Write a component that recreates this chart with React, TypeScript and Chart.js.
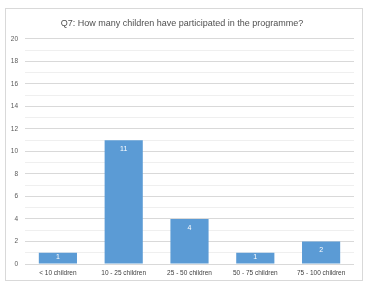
import React, { useEffect, useRef } from "react";
import { Chart, registerables } from "chart.js";
Chart.register(...registerables);

const categories = ["< 10 children", "10 - 25 children", "25 - 50 children", "50 - 75 children", "75 - 100 children"];
const counts = [1, 11, 4, 1, 2];
const titleText = "Q7: How many children have participated in the programme?";

const labelPlugin = {
  id: "barLabels",
  afterDatasetsDraw(chart: any) {
    const ctx = chart.ctx;
    const meta = chart.getDatasetMeta(0);
    ctx.save();
    ctx.fillStyle = "#ffffff";
    ctx.font = "7px 'Liberation Sans', Arial, sans-serif";
    ctx.textAlign = "center";
    ctx.textBaseline = "middle";
    meta.data.forEach((bar: any, i: number) => {
      const y = Math.min(bar.y + 9, (bar.y + bar.base) / 2 - 1);
      ctx.fillText(String(counts[i]), bar.x, y);
    });
    ctx.restore();
  },
};

export default function App() {
  const ref = useRef<HTMLCanvasElement>(null);
  useEffect(() => {
    const chart = new Chart(ref.current!, {
      type: "bar",
      data: {
        labels: categories,
        datasets: [
          {
            data: counts,
            backgroundColor: "#5b9bd5",
            categoryPercentage: 1,
            barPercentage: 0.58,
          },
        ],
      },
      options: {
        animation: false,
        responsive: false,
        layout: { padding: { left: 4, right: 8, top: 4, bottom: 0 } },
        plugins: {
          legend: { display: false },
          tooltip: { enabled: false },
          title: {
            display: true,
            text: titleText,
            color: "#505050",
            font: { family: "'Liberation Sans', Arial, sans-serif", size: 9, weight: "normal" },
            padding: { top: 5, bottom: 10 },
          },
        },
        scales: {
          x: {
            grid: { display: false, drawTicks: false },
            border: { display: false },
            ticks: {
              color: "#404040",
              font: { family: "'Liberation Sans', Arial, sans-serif", size: 6.5 },
              maxRotation: 0,
              autoSkip: false,
              padding: 5,
            },
            afterFit: (s: any) => {
              s.height = 16;
            },
          },
          y: {
            min: 0,
            max: 20,
            border: { display: false },
            grid: {
              drawTicks: false,
              color: (c: any) => (c.tick && c.tick.value % 2 === 0 ? "#d9d9d9" : "#efefef"),
              lineWidth: 1,
            },
            ticks: {
              stepSize: 1,
              color: "#595959",
              font: { family: "'Liberation Sans', Arial, sans-serif", size: 6.5 },
              padding: 7,
              callback: (v: any) => (Number(v) % 2 === 0 ? String(v) : ""),
            },
            afterFit: (s: any) => {
              s.width = 15;
            },
          },
        },
      },
      plugins: [labelPlugin],
    });
    return () => chart.destroy();
  }, []);
  return (
    <div
      style={{
        position: "absolute",
        left: 5,
        top: 8,
        width: 356,
        height: 271,
        border: "1px solid #d9d9d9",
        background: "#fff",
      }}
    >
      <canvas ref={ref} width={356} height={271} />
    </div>
  );
}
